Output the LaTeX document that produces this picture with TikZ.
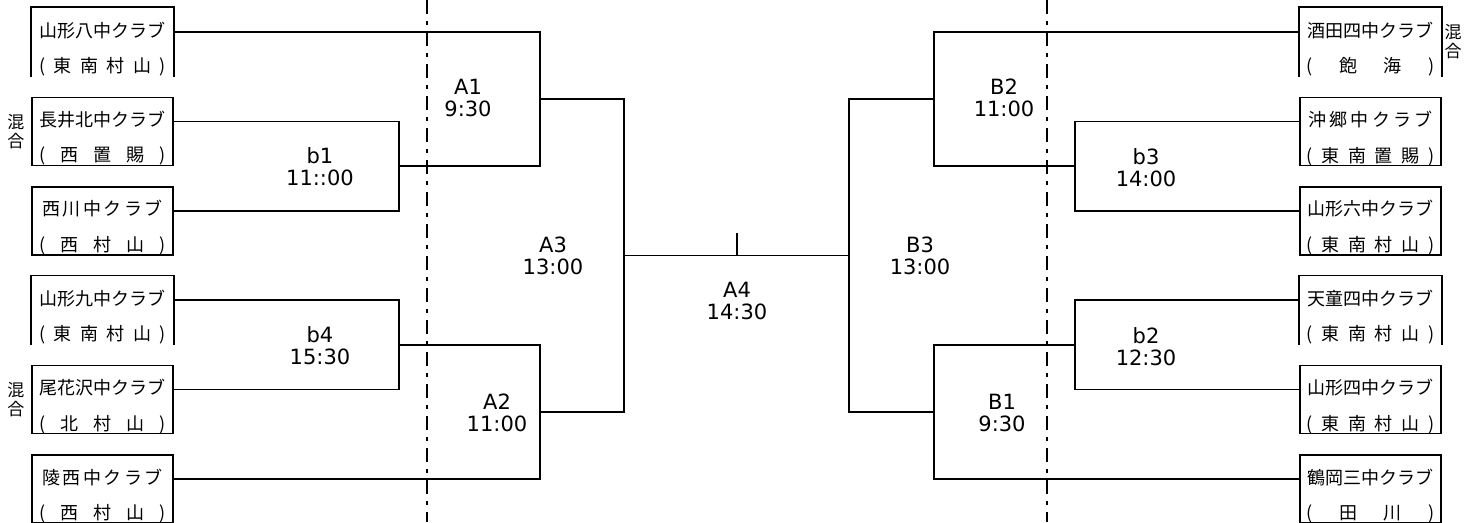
\documentclass[tikz,border=0pt]{standalone}
\usepackage{fontspec}
\setmainfont{Noto Sans CJK JP}
\newfontfamily\timefont{DejaVu Sans}
\usetikzlibrary{positioning}

\begin{document}
\begin{tikzpicture}[x=1pt,y=-1pt,line width=1.7pt,
  team/.style={draw,minimum width=141pt,inner sep=0pt,text height=29pt,text depth=39pt,font=\fontsize{18}{18}\selectfont},
  opened/.style={team,draw=none},
  region/.style={inner sep=0pt,font=\fontsize{18}{18}\selectfont},
  match/.style={align=center,inner sep=0pt,font=\timefont\fontsize{21}{22}\selectfont},
  mixed/.style={align=center,inner sep=0pt,font=\fontsize{17}{19}\selectfont},
  divider/.style={dash pattern=on 14pt off 7pt on 4pt off 7pt}]
\useasboundingbox (0,0) rectangle (1464,522);
\draw [divider] (427,0) -- (427,522);
\draw [divider] (1047,0) -- (1047,522);

\node [opened] (L1) at (102.5,42) {山形八中クラブ};
\node [region] (L1r) at ([yshift=10pt]L1.south) {\makebox[127pt][s]{(\hfill 東\hfill 南\hfill 村\hfill 山\hfill )}};
\node [team] (L2) at (102.5,131.4) {長井北中クラブ};
\node [region] (L2r) at ([yshift=10pt]L2.south) {\makebox[127pt][s]{(\hfill 西\hfill 置\hfill 賜\hfill )}};
\node [team] (L3) at (102.5,220.8) {\makebox[121pt][s]{西\hfill 川\hfill 中\hfill ク\hfill ラ\hfill ブ}};
\node [region] (L3r) at ([yshift=10pt]L3.south) {\makebox[127pt][s]{(\hfill 西\hfill 村\hfill 山\hfill )}};
\node [opened] (L4) at (102.5,310.2) {山形九中クラブ};
\node [region] (L4r) at ([yshift=10pt]L4.south) {\makebox[127pt][s]{(\hfill 東\hfill 南\hfill 村\hfill 山\hfill )}};
\node [team] (L5) at (102.5,399.6) {尾花沢中クラブ};
\node [region] (L5r) at ([yshift=10pt]L5.south) {\makebox[127pt][s]{(\hfill 北\hfill 村\hfill 山\hfill )}};
\node [team] (L6) at (102.5,489) {\makebox[120pt][s]{陵\hfill 西\hfill 中\hfill ク\hfill ラ\hfill ブ}};
\node [region] (L6r) at ([yshift=10pt]L6.south) {\makebox[127pt][s]{(\hfill 西\hfill 村\hfill 山\hfill )}};
\draw (L1.south west) |- (L1.north east) -- (L1.south east);
\draw (L4.south west) |- (L4.north east) -- (L4.south east);
\node [mixed,left=6pt of L2] (L2m) {混\\合};
\node [mixed,left=6pt of L5] (L5m) {混\\合};

\node [opened] (R1) at (1370.5,42) {酒田四中クラブ};
\node [region] (R1r) at ([yshift=10pt]R1.south) {\makebox[128pt][s]{(\hfill 飽\hfill 海\hfill )}};
\node [team] (R2) at (1370.5,131.4) {\makebox[124pt][s]{沖\hfill 郷\hfill 中\hfill ク\hfill ラ\hfill ブ}};
\node [region] (R2r) at ([yshift=10pt]R2.south) {\makebox[128pt][s]{(\hfill 東\hfill 南\hfill 置\hfill 賜\hfill )}};
\node [team] (R3) at (1370.5,220.8) {山形六中クラブ};
\node [region] (R3r) at ([yshift=10pt]R3.south) {\makebox[128pt][s]{(\hfill 東\hfill 南\hfill 村\hfill 山\hfill )}};
\node [opened] (R4) at (1370.5,310.2) {天童四中クラブ};
\node [region] (R4r) at ([yshift=10pt]R4.south) {\makebox[128pt][s]{(\hfill 東\hfill 南\hfill 村\hfill 山\hfill )}};
\node [team] (R5) at (1370.5,399.6) {山形四中クラブ};
\node [region] (R5r) at ([yshift=10pt]R5.south) {\makebox[128pt][s]{(\hfill 東\hfill 南\hfill 村\hfill 山\hfill )}};
\node [team] (R6) at (1370.5,489) {鶴岡三中クラブ};
\node [region] (R6r) at ([yshift=10pt]R6.south) {\makebox[128pt][s]{(\hfill 田\hfill 川\hfill )}};
\draw (R1.south west) |- (R1.north east) -- (R1.south east);
\draw (R4.south west) |- (R4.north east) -- (R4.south east);
\node [mixed,right=2pt of R1] (R1m) {混\\合};

\coordinate (b1) at (399,166.1);
\coordinate (b4) at (399,344.9);
\coordinate (A1) at (540,99.05);
\coordinate (A2) at (540,411.95);
\coordinate (A3) at (624,255.5);
\coordinate (A4) at (737,255.5);
\coordinate (B3) at (849,255.5);
\coordinate (B2) at (934,99.05);
\coordinate (B1) at (934,411.95);
\coordinate (b3) at (1075,166.1);
\coordinate (b2) at (1075,344.9);

\draw ([yshift=10pt]L2.east) -| (b1) |- ([yshift=10pt]L3.east);
\draw ([yshift=10pt]L4.east) -| (b4) |- ([yshift=10pt]L5.east);
\draw ([yshift=10pt]L1.east) -| (A1) |- (b1);
\draw (b4) -| (A2) |- ([yshift=10pt]L6.east);
\draw (A1) -| (A3) |- (A2);
\draw ([yshift=10pt]R2.west) -| (b3) |- ([yshift=10pt]R3.west);
\draw ([yshift=10pt]R4.west) -| (b2) |- ([yshift=10pt]R5.west);
\draw ([yshift=10pt]R1.west) -| (B2) |- (b3);
\draw (b2) -| (B1) |- ([yshift=10pt]R6.west);
\draw (B2) -| (B3) |- (B1);
\draw (A3) -- (B3);
\draw (A4) -- ++(0,-23);

\node [match] (b1t) at (320,166.5) {b1\\11::00};
\node [match] (b4t) at (320,346) {b4\\15:30};
\node [match] (A1t) at (468,98) {A1\\9:30};
\node [match] (A2t) at (497,412.5) {A2\\11:00};
\node [match] (A3t) at (553,256) {A3\\13:00};
\node [match] (A4t) at (737,300.5) {A4\\14:30};
\node [match] (B3t) at (920,256) {B3\\13:00};
\node [match] (B2t) at (1004,98) {B2\\11:00};
\node [match] (B1t) at (1002,412.5) {B1\\9:30};
\node [match] (b3t) at (1146,167.5) {b3\\14:00};
\node [match] (b2t) at (1146,347) {b2\\12:30};
\end{tikzpicture}
\end{document}
